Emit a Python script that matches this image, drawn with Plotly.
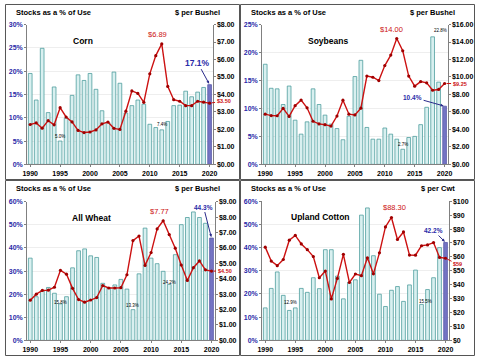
import plotly.graph_objects as go

years = list(range(1990, 2021))

corn_stu = [19.5, 13.8, 24.9, 11.1, 16.6, 5.0, 9.9, 14.8, 19.2, 18.0, 19.5, 16.1, 11.5, 9.0, 19.8, 17.4,
            11.0, 12.6, 13.8, 12.9, 8.6, 7.9, 7.4, 9.2, 12.6, 12.7, 15.7, 14.5, 15.5, 16.5, 17.1]
corn_price = [2.28, 2.37, 2.07, 2.50, 2.26, 3.24, 2.71, 2.43, 1.94, 1.82, 1.85, 1.97, 2.32, 2.42, 2.06, 2.00,
              3.04, 4.20, 4.06, 3.55, 5.18, 6.22, 6.89, 4.46, 3.70, 3.61, 3.36, 3.36, 3.61, 3.56, 3.50]

soy_stu = [17.9, 13.6, 13.5, 10.7, 14.0, 7.9, 5.4, 7.6, 13.5, 10.7, 8.8, 7.2, 6.4, 4.4, 8.6, 15.7,
           18.6, 6.6, 4.5, 4.5, 6.5, 5.4, 4.5, 2.7, 4.8, 5.0, 7.1, 10.2, 22.8, 14.7, 10.4]
soy_price = [5.74, 5.58, 5.56, 6.40, 5.48, 6.72, 7.35, 6.47, 4.93, 4.63, 4.54, 4.38, 5.53, 7.34, 5.74, 5.66,
             6.43, 10.10, 9.97, 9.59, 11.30, 12.50, 14.40, 13.00, 10.10, 8.95, 9.47, 9.33, 8.48, 8.57, 9.25]

wheat_stu = [35.6, 18.9, 21.5, 22.9, 20.4, 15.8, 18.9, 31.4, 38.8, 39.6, 36.6, 35.9, 24.7, 22.7, 24.0, 26.4,
             22.2, 13.3, 28.8, 48.6, 35.6, 33.2, 29.9, 24.2, 37.1, 50.1, 53.2, 55.6, 53.2, 50.7, 44.3]
wheat_price = [2.61, 3.00, 3.24, 3.26, 3.45, 4.55, 4.30, 3.38, 2.65, 2.48, 2.62, 2.78, 3.56, 3.40, 3.40, 3.42,
               4.26, 6.48, 6.78, 4.87, 5.70, 7.24, 7.77, 6.87, 5.99, 4.89, 3.89, 4.72, 5.16, 4.58, 4.50]

cotton_stu = [14.0, 22.4, 29.5, 19.4, 12.9, 14.0, 22.4, 20.7, 27.0, 22.3, 39.1, 39.1, 27.7, 17.9, 25.0, 26.1,
              54.0, 57.1, 36.5, 19.9, 14.6, 21.6, 23.2, 16.8, 23.9, 30.3, 15.5, 21.9, 27.0, 40.0, 42.2]
cotton_price = [67.0, 57.0, 53.7, 58.1, 72.0, 75.4, 69.3, 65.2, 60.2, 45.0, 49.8, 29.8, 44.5, 61.8, 41.6, 47.7,
                46.5, 59.3, 47.8, 62.9, 81.5, 88.3, 72.5, 77.9, 61.3, 61.2, 68.0, 68.6, 70.3, 59.6, 59.0]

panel_titles = ["Corn", "Soybeans", "All Wheat", "Upland Cotton"]
unit_labels = ["$ per Bushel", "$ per Bushel", "$ per Bushel", "$ per Cwt"]
peak_labels = ["$6.89", "$14.00", "$7.77", "$88.30"]
current_stu_labels = ["17.1%", "10.4%", "44.3%", "42.2%"]
current_price_labels = ["$3.50", "$9.25", "$4.50", "$59"]
low_labels = [
    [(1995, "5.0%"), (2012, "7.4%")],
    [(2018, "22.8%"), (2013, "2.7%")],
    [(1995, "15.8%"), (2007, "13.3%"), (2013, "24.2%")],
    [(1994, "12.9%"), (2016, "15.5%")],
]

FONT = "Liberation Sans, Arial, sans-serif"
BLUE = "#2a2aa8"
RED = "#cc1111"
W, H = 480, 360


def px(x):
    return x / W


def py(y):
    return 1 - y / H


panels = [
    dict(stu=corn_stu, price=corn_price, x0=22.7, x1=212.0, yt=21.0, yb=164.0, lmax=30, ldt=5,
         rmax=8, rdt=1, rfmt=".2f", top=0, left=0, title_xy=(79.5, 38), peak_shift=(-4, 3),
         cur_ax=(-12, -22), cur_size=8.5, price_ax=(14, -2), low_shift=[(0, 0), (0, 1)]),
    dict(stu=soy_stu, price=soy_price, x0=262.7, x1=452.0, yt=21.0, yb=164.0, lmax=25, ldt=5,
         rmax=16, rdt=2, rfmt=".2f", top=0, left=240, title_xy=(330, 38), peak_shift=(-5, 3),
         cur_ax=(-32, -9), cur_size=6.5, price_ax=(15, 0), low_shift=[(8, 2), (0, 0)]),
    dict(stu=wheat_stu, price=wheat_price, x0=22.7, x1=214.0, yt=202.3, yb=344.0, lmax=60, ldt=10,
         rmax=9, rdt=1, rfmt=".2f", top=180, left=0, title_xy=(88, 219), peak_shift=(-4, 3),
         cur_ax=(-8, -31), cur_size=6.5, price_ax=(13, 0), low_shift=[(0, -3), (0, 0), (0, -3)]),
    dict(stu=cotton_stu, price=cotton_price, x0=262.7, x1=453.0, yt=201.7, yb=344.0, lmax=60, ldt=10,
         rmax=100, rdt=10, rfmt="d", top=180, left=240, title_xy=(322, 218), peak_shift=(3, 3),
         cur_ax=(-12, -12), cur_size=6.5, price_ax=(12, 6), low_shift=[(1, 3), (4, -2)]),
]

fig = go.Figure()
annotations = []
shapes = []
layout = {}

for i, p in enumerate(panels):
    k = i + 1
    xa = "x" if k == 1 else f"x{k}"
    yl = "y" if k == 1 else f"y{2 * k - 1}"
    yr = f"y{2 * k}"
    xkey = "xaxis" if k == 1 else f"xaxis{k}"
    ylkey = "yaxis" if k == 1 else f"yaxis{2 * k - 1}"
    yrkey = f"yaxis{2 * k}"

    colors = ["#d9f0f0"] * (len(years) - 1) + ["#7474c4"]
    lines = ["#4f9e9e"] * (len(years) - 1) + ["#5a5aa8"]
    fig.add_trace(go.Bar(x=years, y=p["stu"], xaxis=xa, yaxis=yl, width=0.62,
                         marker=dict(color=colors, line=dict(color=lines, width=0.8)),
                         showlegend=False, hoverinfo="skip"))
    fig.add_trace(go.Scatter(x=years, y=p["price"], xaxis=xa, yaxis=yr, mode="lines+markers",
                             line=dict(color=RED, width=1.4),
                             marker=dict(size=3.2, color="#a00000"),
                             showlegend=False, hoverinfo="skip"))

    tick_font = dict(size=7, color="black", family=FONT, weight="bold")
    layout[xkey] = dict(domain=[px(p["x0"]), px(p["x1"])], anchor=yl, range=[1989.5, 2020.5],
                        tickmode="array", tickvals=list(range(1990, 2021, 5)),
                        ticktext=[str(v) for v in range(1990, 2021, 5)],
                        tickfont=tick_font,
                        showline=True, linecolor="#808080", linewidth=1, ticks="outside",
                        ticklen=2, tickcolor="#808080", showgrid=False, zeroline=False)
    layout[ylkey] = dict(domain=[py(p["yb"]), py(p["yt"])], anchor=xa, range=[0, p["lmax"]],
                         dtick=p["ldt"], ticksuffix="%", tickformat="d",
                         tickfont=dict(size=7, color=BLUE, family=FONT, weight="bold"),
                         showline=True, linecolor="#808080", linewidth=1, ticks="outside",
                         ticklen=2, tickcolor="#808080", showgrid=True, gridcolor="#eeeeee",
                         gridwidth=1, zeroline=False)
    layout[yrkey] = dict(overlaying=yl, anchor=xa, side="right", range=[0, p["rmax"]],
                         dtick=p["rdt"], tickprefix="$", tickformat=p["rfmt"],
                         tickfont=tick_font,
                         showline=True, linecolor="#808080", linewidth=1, ticks="outside",
                         ticklen=2, tickcolor="#808080", showgrid=False, zeroline=False)

    top = p["top"]
    left = p["left"]
    # header labels
    annotations.append(dict(x=px(left + 9), y=py(top + 9), xref="paper", yref="paper",
                            text="Stocks as a % of Use", showarrow=False, xanchor="left",
                            yanchor="middle",
                            font=dict(size=7.5, color="black", family=FONT, weight="bold")))
    annotations.append(dict(x=px(left + 222), y=py(top + 9), xref="paper", yref="paper",
                            text=unit_labels[i], showarrow=False, xanchor="right",
                            yanchor="middle",
                            font=dict(size=7.5, color="black", family=FONT, weight="bold")))
    tx, ty = p["title_xy"]
    annotations.append(dict(x=px(tx), y=py(ty), xref="paper", yref="paper",
                            text=panel_titles[i], showarrow=False, xanchor="center",
                            yanchor="middle",
                            font=dict(size=8.5, color="black", family=FONT, weight="bold")))

    # peak price label
    prices = p["price"]
    pk = max(range(len(prices)), key=lambda j: prices[j])
    annotations.append(dict(x=years[pk], y=prices[pk], xref=xa, yref=yr, text=peak_labels[i],
                            showarrow=False, xanchor="center", yanchor="bottom",
                            xshift=p["peak_shift"][0], yshift=p["peak_shift"][1],
                            font=dict(size=7.5, color=RED, family=FONT)))
    # current stocks label with arrow
    annotations.append(dict(x=years[-1], y=p["stu"][-1], xref=xa, yref=yl,
                            text=current_stu_labels[i], showarrow=True,
                            ax=p["cur_ax"][0], ay=p["cur_ax"][1], arrowhead=2, arrowsize=0.6,
                            arrowwidth=1, arrowcolor="#2a2a8a", standoff=1,
                            font=dict(size=p["cur_size"], color=BLUE, family=FONT, weight="bold")))
    # current price label
    annotations.append(dict(x=years[-1], y=prices[-1], xref=xa, yref=yr,
                            text=current_price_labels[i], showarrow=True,
                            ax=p["price_ax"][0], ay=p["price_ax"][1], arrowhead=0,
                            arrowwidth=1, arrowcolor=RED, standoff=2,
                            font=dict(size=5.5, color=RED, family=FONT, weight="bold")))
    # low stocks labels
    for (yr_, txt), (sx, sy) in zip(low_labels[i], p["low_shift"]):
        j = years.index(yr_)
        annotations.append(dict(x=yr_, y=p["stu"][j], xref=xa, yref=yl, text=txt,
                                showarrow=False, xanchor="center", yanchor="bottom",
                                xshift=sx, yshift=sy,
                                font=dict(size=4.5, color="black", family=FONT)))

    # panel frame
    shapes.append(dict(type="rect", xref="paper", yref="paper",
                       x0=px(left + 0.5), x1=px(left + 239.5), y0=py(top + 179.5), y1=py(top + 0.5),
                       line=dict(color="#555555", width=1)))

fig.update_layout(**layout)
fig.update_layout(width=W, height=H, margin=dict(l=0, r=0, t=0, b=0),
                  paper_bgcolor="white", plot_bgcolor="white",
                  annotations=annotations, shapes=shapes, bargap=0.4,
                  font=dict(family=FONT))

fig.write_html("out.html", config={"displayModeBar": False},
               post_script="document.body.style.margin='0';document.body.style.overflow='hidden';")
